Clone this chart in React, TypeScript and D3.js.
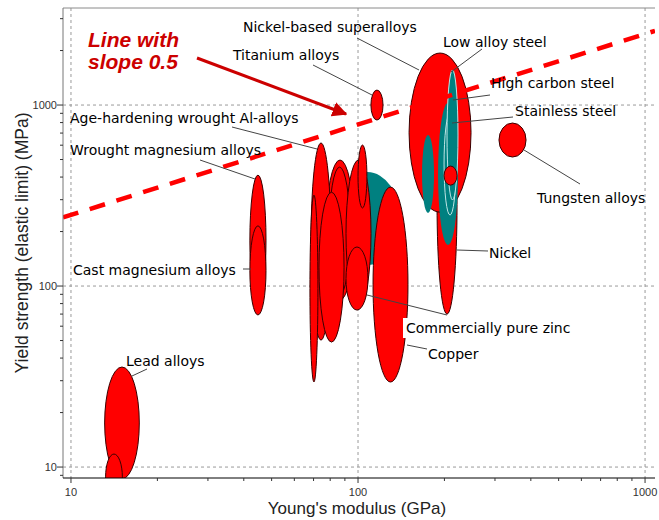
import React from 'react';
import * as d3 from 'd3';

// ---------- data ----------
const materialNames = [
  'Lead alloys', 'Lead (pure)', 'Wrought magnesium alloys', 'Cast magnesium alloys',
  'Cast irons', 'Zinc alloys', 'Brass', 'Age-hardening wrought Al-alloys', 'Cast Al-alloys',
  'Non-age-hardening Al-alloys', 'Bronze', 'Al-Li alloys', 'Commercially pure zinc', 'Copper',
  'Titanium alloys', 'Nickel', 'Nickel-based superalloys', 'Carbon steel',
  'High carbon steel', 'Stainless steel', 'Low alloy steel', 'Nickel alloys', 'Tungsten alloys',
];
const modulusLow = [13.1, 13.2, 42.0, 42.0, 83.2, 77.4, 79.3, 68.6, 68.0, 73.1, 90.8, 100, 90.8, 112.8, 110.9, 188.5, 150.6, 167.1, 190, 199.4, 204.2, 199.4, 309.8];
const modulusHigh = [17.3, 15.1, 47.8, 47.8, 140, 96.8, 93.8, 80.5, 72.5, 89.4, 111, 107.4, 108.3, 149.3, 122.2, 221.3, 247.6, 184, 223, 219.5, 223, 221.3, 384.9];
const strengthLow = [8.6, 6.6, 78.5, 69.2, 130.6, 83.7, 89.2, 50.3, 29.5, 49, 76.6, 270, 73.7, 29.5, 826, 70, 256, 253, 168.5, 246.7, 298.6, 361, 516];
const strengthHigh = [35.7, 11.8, 410, 215, 426, 497, 454, 617, 318, 330, 497, 601, 164.3, 352, 1210, 1135, 1937, 683, 1026, 903, 1561, 460, 795.6];
const materialFamily = [
  'nonferrous', 'nonferrous', 'nonferrous', 'nonferrous', 'ferrous', 'nonferrous', 'nonferrous',
  'nonferrous', 'nonferrous', 'nonferrous', 'nonferrous', 'nonferrous', 'nonferrous', 'nonferrous',
  'nonferrous', 'nonferrous', 'nonferrous', 'ferrous', 'ferrous', 'steel', 'steel', 'nonferrous', 'nonferrous',
];

const xTicks = [10, 100, 1000];
const yTicks = [10, 100, 1000];
const xDomain = [9.38, 1083];
const yDomain = [8.7, 3436];
const slope = 0.5;
const lineAnchor = [10, 247]; // E = 10 GPa, sigma = 247 MPa

// annotation layout (pixels)
const labels = [
  { t: 'Nickel-based superalloys', x: 243, y: 32, l: [357, 38, 419, 70] },
  { t: 'Titanium alloys', x: 233, y: 60, l: [313, 65, 372, 95] },
  { t: 'Low alloy steel', x: 443, y: 47, l: [482, 49, 451, 72] },
  { t: 'High carbon steel', x: 491, y: 88, l: [490, 95, 453, 100] },
  { t: 'Stainless steel', x: 515, y: 116, l: [513, 117, 452, 123] },
  { t: 'Age-hardening wrought Al-alloys', x: 70, y: 123, l: [232, 127, 317, 149] },
  { t: 'Wrought magnesium alloys', x: 70, y: 155, l: [200, 160, 255, 179] },
  { t: 'Tungsten alloys', x: 537, y: 203, l: [524, 150, 580, 184] },
  { t: 'Nickel', x: 489, y: 258, l: [457, 250, 488, 251] },
  { t: 'Cast magnesium alloys', x: 73, y: 275, l: [243, 269, 251, 269] },
  { t: 'Commercially pure zinc', x: 406, y: 333, l: [367, 295, 447, 315], box: true },
  { t: 'Copper', x: 428, y: 359, l: [407, 345, 427, 349] },
  { t: 'Lead alloys', x: 126, y: 366, l: [147, 369, 132, 376] },
];

const W = 659;
const H = 520;
const left = 63, right = 655, top = 8, bottom = 478;

const FONT = '"Liberation Sans", Arial, sans-serif';
const LABEL_FONT = '"DejaVu Sans", Verdana, sans-serif';

export default function App() {
  const x = d3.scaleLog().domain(xDomain).range([left, right]);
  const y = d3.scaleLog().domain(yDomain).range([bottom, top]);

  const fillOf = (f: string) => (f === 'nonferrous' ? '#ff0000' : '#008080');
  const strokeOf = (f: string) => (f === 'nonferrous' ? '#3a0000' : f === 'steel' ? '#bfe6e6' : 'none');

  const minorX: number[] = [];
  const minorY: number[] = [];
  for (const dec of [1, 10, 100, 1000]) {
    for (let k = 1; k <= 9; k++) {
      const v = dec * k;
      if (v > xDomain[0] && v < xDomain[1] && !xTicks.includes(v)) minorX.push(v);
      if (v > yDomain[0] && v < yDomain[1] && !yTicks.includes(v)) minorY.push(v);
    }
  }

  const lineE = [xDomain[0], xDomain[1]];
  const lineS = lineE.map((e) => lineAnchor[1] * Math.pow(e / lineAnchor[0], slope));

  return (
    <svg width={W} height={H} style={{ position: 'absolute', left: 0, top: 0, background: '#fff' }}
      fontFamily={FONT}>
      <defs>
        <clipPath id="plot">
          <rect x={left} y={top} width={right - left} height={bottom - top} />
        </clipPath>
        <marker id="arrow" viewBox="0 0 10 10" refX="9" refY="5" markerWidth="5" markerHeight="5" orient="auto">
          <path d="M0,0 L10,5 L0,10 z" fill="#cc0000" />
        </marker>
      </defs>

      {/* grid */}
      {xTicks.map((v) => (
        <line key={'gx' + v} x1={x(v)} x2={x(v)} y1={top} y2={bottom} stroke="#9a9a9a" strokeDasharray="3,3" />
      ))}
      {yTicks.map((v) => (
        <line key={'gy' + v} x1={left} x2={right} y1={y(v)} y2={y(v)} stroke="#9a9a9a" strokeDasharray="3,3" />
      ))}

      {/* ellipses */}
      <g clipPath="url(#plot)">
        {materialNames.map((n, i) => {
          const x0 = x(modulusLow[i]), x1 = x(modulusHigh[i]);
          const y0 = y(strengthLow[i]), y1 = y(strengthHigh[i]);
          return (
            <ellipse key={n} cx={(x0 + x1) / 2} cy={(y0 + y1) / 2} rx={(x1 - x0) / 2} ry={(y0 - y1) / 2}
              fill={fillOf(materialFamily[i])} stroke={strokeOf(materialFamily[i])} strokeWidth={1} />
          );
        })}
        <line x1={x(lineE[0])} y1={y(lineS[0])} x2={x(lineE[1])} y2={y(lineS[1])}
          stroke="#ff0000" strokeWidth={4.5} strokeDasharray="16,12" />
      </g>

      {/* frame */}
      <line x1={left} x2={right} y1={top} y2={top} stroke="#8a8a8a" />
      <line x1={left} x2={left} y1={top} y2={bottom} stroke="#777" />
      <line x1={left} x2={right} y1={bottom} y2={bottom} stroke="#000" />

      {/* axes ticks */}
      {xTicks.map((v) => (
        <g key={'tx' + v}>
          <line x1={x(v)} x2={x(v)} y1={bottom} y2={bottom + 5} stroke="#333" />
          <text x={x(v)} y={496} textAnchor="middle" fontSize={11} fill="#333">{v}</text>
        </g>
      ))}
      {minorX.map((v) => (
        <line key={'mx' + v} x1={x(v)} x2={x(v)} y1={bottom} y2={bottom + 3} stroke="#333" />
      ))}
      {yTicks.map((v) => (
        <g key={'ty' + v}>
          <line x1={left - 6} x2={left} y1={y(v)} y2={y(v)} stroke="#333" />
          <text x={57} y={y(v) + 4} textAnchor="end" fontSize={11} fill="#333">{v}</text>
        </g>
      ))}
      {minorY.map((v) => (
        <line key={'my' + v} x1={left - 3} x2={left} y1={y(v)} y2={y(v)} stroke="#333" />
      ))}

      {/* axis titles */}
      <text x={357} y={514} textAnchor="middle" fontSize={17} fill="#222">Young's modulus (GPa)</text>
      <text transform="translate(28,243) rotate(-90)" textAnchor="middle" fontSize={17.5} fill="#222">
        Yield strength (elastic limit) (MPa)
      </text>

      {/* labels */}
      {labels.map((lb) => (
        <g key={lb.t}>
          <line x1={lb.l[0]} y1={lb.l[1]} x2={lb.l[2]} y2={lb.l[3]} stroke="#444" strokeWidth={1} />
          {lb.box && <rect x={lb.x - 3} y={lb.y - 15} width={176} height={20} fill="#fff" />}
          <text x={lb.x} y={lb.y} fontSize={14} fill="#000" fontFamily={LABEL_FONT}>{lb.t}</text>
        </g>
      ))}

      {/* slope annotation */}
      <text x={88} y={47} fontSize={21} fontWeight="bold" fontStyle="italic" fill="#cc0000">Line with</text>
      <text x={88} y={69} fontSize={21} fontWeight="bold" fontStyle="italic" fill="#cc0000">slope 0.5</text>
      <line x1={197} y1={58} x2={346} y2={114} stroke="#cc0000" strokeWidth={3} markerEnd="url(#arrow)" />
    </svg>
  );
}
